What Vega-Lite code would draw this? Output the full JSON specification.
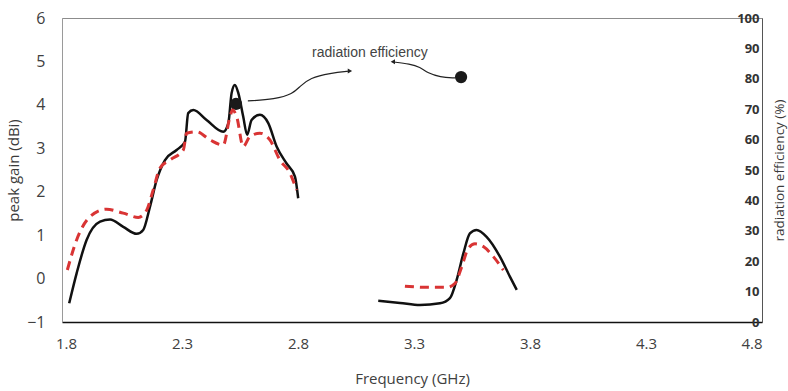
{
  "$schema": "https://vega.github.io/schema/vega-lite/v6.json",
  "autosize": "none",
  "width": 700,
  "height": 304,
  "padding": {"left": 62, "top": 18, "right": 26, "bottom": 69},
  "background": "white",
  "config": {
    "view": {"stroke": "#8c8c8c", "strokeWidth": 1},
    "axis": {"grid": false, "labelFont": "Open Sans", "titleFont": "Open Sans", "titleFontWeight": "normal"}
  },
  "datasets": {
    "gain": [
      {"f": 1.814, "g": -0.57, "band": "a"},
      {"f": 1.846, "g": 0.12, "band": "a"},
      {"f": 1.889, "g": 0.89, "band": "a"},
      {"f": 1.947, "g": 1.31, "band": "a"},
      {"f": 1.99, "g": 1.36, "band": "a"},
      {"f": 2.047, "g": 1.19, "band": "a"},
      {"f": 2.105, "g": 1.03, "band": "a"},
      {"f": 2.133, "g": 1.12, "band": "a"},
      {"f": 2.162, "g": 1.65, "band": "a"},
      {"f": 2.191, "g": 2.27, "band": "a"},
      {"f": 2.227, "g": 2.73, "band": "a"},
      {"f": 2.277, "g": 2.96, "band": "a"},
      {"f": 2.313, "g": 3.15, "band": "a"},
      {"f": 2.327, "g": 3.81, "band": "a"},
      {"f": 2.349, "g": 3.88, "band": "a"},
      {"f": 2.406, "g": 3.65, "band": "a"},
      {"f": 2.478, "g": 3.38, "band": "a"},
      {"f": 2.5, "g": 3.58, "band": "a"},
      {"f": 2.514, "g": 4.27, "band": "a"},
      {"f": 2.528, "g": 4.46, "band": "a"},
      {"f": 2.543, "g": 4.27, "band": "a"},
      {"f": 2.564, "g": 3.73, "band": "a"},
      {"f": 2.581, "g": 3.31, "band": "a"},
      {"f": 2.6, "g": 3.65, "band": "a"},
      {"f": 2.636, "g": 3.77, "band": "a"},
      {"f": 2.672, "g": 3.58, "band": "a"},
      {"f": 2.708, "g": 3.04, "band": "a"},
      {"f": 2.751, "g": 2.65, "band": "a"},
      {"f": 2.787, "g": 2.35, "band": "a"},
      {"f": 2.801, "g": 1.85, "band": "a"},
      {"f": 3.146, "g": -0.51, "band": "b"},
      {"f": 3.24, "g": -0.56, "band": "b"},
      {"f": 3.326, "g": -0.61, "band": "b"},
      {"f": 3.412, "g": -0.57, "band": "b"},
      {"f": 3.455, "g": -0.45, "band": "b"},
      {"f": 3.484, "g": -0.03, "band": "b"},
      {"f": 3.513, "g": 0.58, "band": "b"},
      {"f": 3.541, "g": 1.04, "band": "b"},
      {"f": 3.57, "g": 1.12, "band": "b"},
      {"f": 3.613, "g": 0.96, "band": "b"},
      {"f": 3.671, "g": 0.5, "band": "b"},
      {"f": 3.714, "g": 0.04, "band": "b"},
      {"f": 3.743, "g": -0.26, "band": "b"}
    ],
    "eff": [
      {"f": 1.806, "e": 17.1, "band": "a"},
      {"f": 1.846, "e": 27.0, "band": "a"},
      {"f": 1.903, "e": 34.6, "band": "a"},
      {"f": 1.975, "e": 37.1, "band": "a"},
      {"f": 2.047, "e": 35.8, "band": "a"},
      {"f": 2.112, "e": 34.4, "band": "a"},
      {"f": 2.148, "e": 36.8, "band": "a"},
      {"f": 2.176, "e": 43.4, "band": "a"},
      {"f": 2.205, "e": 50.6, "band": "a"},
      {"f": 2.248, "e": 53.3, "band": "a"},
      {"f": 2.306, "e": 56.6, "band": "a"},
      {"f": 2.32, "e": 62.1, "band": "a"},
      {"f": 2.363, "e": 62.6, "band": "a"},
      {"f": 2.421, "e": 59.9, "band": "a"},
      {"f": 2.478, "e": 58.2, "band": "a"},
      {"f": 2.507, "e": 67.5, "band": "a"},
      {"f": 2.518, "e": 69.7, "band": "a"},
      {"f": 2.536, "e": 67.5, "band": "a"},
      {"f": 2.564, "e": 57.7, "band": "a"},
      {"f": 2.593, "e": 61.0, "band": "a"},
      {"f": 2.636, "e": 62.1, "band": "a"},
      {"f": 2.679, "e": 59.9, "band": "a"},
      {"f": 2.722, "e": 53.3, "band": "a"},
      {"f": 2.766, "e": 48.9, "band": "a"},
      {"f": 2.794, "e": 43.4, "band": "a"},
      {"f": 3.261, "e": 11.8, "band": "b"},
      {"f": 3.355, "e": 11.4, "band": "b"},
      {"f": 3.441, "e": 11.4, "band": "b"},
      {"f": 3.477, "e": 12.7, "band": "b"},
      {"f": 3.506, "e": 18.2, "band": "b"},
      {"f": 3.534, "e": 24.2, "band": "b"},
      {"f": 3.563, "e": 25.7, "band": "b"},
      {"f": 3.599, "e": 24.8, "band": "b"},
      {"f": 3.642, "e": 21.5, "band": "b"},
      {"f": 3.685, "e": 17.1, "band": "b"}
    ],
    "dots": [
      {"f": 2.533, "g": 4.02},
      {"f": 3.503, "g": 4.64}
    ],
    "arrows": [
      {"arrow": 1, "i": 0, "f": 2.584, "g": 4.09},
      {"arrow": 1, "i": 1, "f": 2.701, "g": 4.13},
      {"arrow": 1, "i": 2, "f": 2.778, "g": 4.25},
      {"arrow": 1, "i": 3, "f": 2.809, "g": 4.43},
      {"arrow": 1, "i": 4, "f": 2.852, "g": 4.62},
      {"arrow": 1, "i": 5, "f": 2.938, "g": 4.73},
      {"arrow": 1, "i": 6, "f": 3.024, "g": 4.78},
      {"arrow": 2, "i": 0, "f": 3.477, "g": 4.62},
      {"arrow": 2, "i": 1, "f": 3.412, "g": 4.64},
      {"arrow": 2, "i": 2, "f": 3.36, "g": 4.73},
      {"arrow": 2, "i": 3, "f": 3.326, "g": 4.87},
      {"arrow": 2, "i": 4, "f": 3.283, "g": 4.94},
      {"arrow": 2, "i": 5, "f": 3.209, "g": 4.99}
    ],
    "heads": [
      {"f": 3.024, "g": 4.78, "dir": "triangle-right"},
      {"f": 3.209, "g": 4.99, "dir": "triangle-left"}
    ],
    "label": [
      {"f": 3.11, "g": 5.19, "text": "radiation efficiency"}
    ]
  },
  "resolve": {"scale": {"y": "independent"}},
  "layer": [
    {
      "layer": [
        {
          "data": {"name": "gain"},
          "mark": {"type": "line", "color": "#111111", "strokeWidth": 2.5, "interpolate": "monotone"},
          "encoding": {
            "x": {
              "field": "f", "type": "quantitative",
              "scale": {"domain": [1.783, 4.8], "nice": false, "zero": false},
              "axis": {
                "values": [1.8, 2.3, 2.8, 3.3, 3.8, 4.3, 4.8], "format": ".1f",
                "title": "Frequency (GHz)", "titleFontSize": 15, "titleColor": "#404040", "titlePadding": 20,
                "labelFontSize": 15, "labelColor": "#404040", "labelPadding": 14,
                "domainColor": "#111111", "domainWidth": 1.5, "ticks": false
              }
            },
            "y": {
              "field": "g", "type": "quantitative",
              "scale": {"domain": [-1, 6], "nice": false, "zero": false},
              "axis": {
                "orient": "left", "values": [-1, 0, 1, 2, 3, 4, 5, 6],
                "title": "peak gain (dBi)", "titleFontSize": 15, "titleColor": "#3a3a3a", "titlePadding": 5,
                "labelFontSize": 16, "labelColor": "#404040", "labelPadding": 17,
                "domainColor": "#9a9a9a", "ticks": false
              }
            },
            "detail": {"field": "band"}
          }
        },
        {
          "data": {"name": "arrows"},
          "mark": {"type": "line", "color": "#222222", "strokeWidth": 1.2, "interpolate": "basis"},
          "encoding": {
            "x": {"field": "f", "type": "quantitative"},
            "y": {"field": "g", "type": "quantitative"},
            "order": {"field": "i"},
            "detail": {"field": "arrow"}
          }
        },
        {
          "data": {"name": "heads"},
          "mark": {"type": "point", "filled": true, "color": "#222222", "size": 25, "opacity": 1},
          "encoding": {
            "x": {"field": "f", "type": "quantitative"},
            "y": {"field": "g", "type": "quantitative"},
            "shape": {"field": "dir", "type": "nominal", "scale": null}
          }
        },
        {
          "data": {"name": "dots"},
          "mark": {"type": "point", "filled": true, "color": "#1a1a1a", "size": 150, "opacity": 1},
          "encoding": {
            "x": {"field": "f", "type": "quantitative"},
            "y": {"field": "g", "type": "quantitative"}
          }
        },
        {
          "data": {"name": "label"},
          "mark": {"type": "text", "font": "Liberation Sans", "fontSize": 14, "color": "#444444", "align": "center", "baseline": "middle"},
          "encoding": {
            "x": {"field": "f", "type": "quantitative"},
            "y": {"field": "g", "type": "quantitative"},
            "text": {"field": "text"}
          }
        }
      ]
    },
    {
      "data": {"name": "eff"},
      "mark": {"type": "line", "color": "#d93434", "strokeWidth": 3, "strokeDash": [9, 6], "interpolate": "monotone"},
      "encoding": {
        "x": {"field": "f", "type": "quantitative"},
        "y": {
          "field": "e", "type": "quantitative",
          "scale": {"domain": [0, 100], "nice": false},
          "axis": {
            "orient": "right", "values": [0, 10, 20, 30, 40, 50, 60, 70, 80, 90, 100],
            "title": "radiation efficiency (%)", "titleFontSize": 13.5, "titleColor": "#3a3a3a", "titleAngle": 270,
            "titlePadding": 24,
            "labelFontSize": 13, "labelFontWeight": "bold", "labelColor": "#333333",
            "labelAlign": "right", "labelPadding": -3, "ticks": false,
            "domainColor": "#555555"
          }
        },
        "detail": {"field": "band"}
      }
    }
  ]
}
